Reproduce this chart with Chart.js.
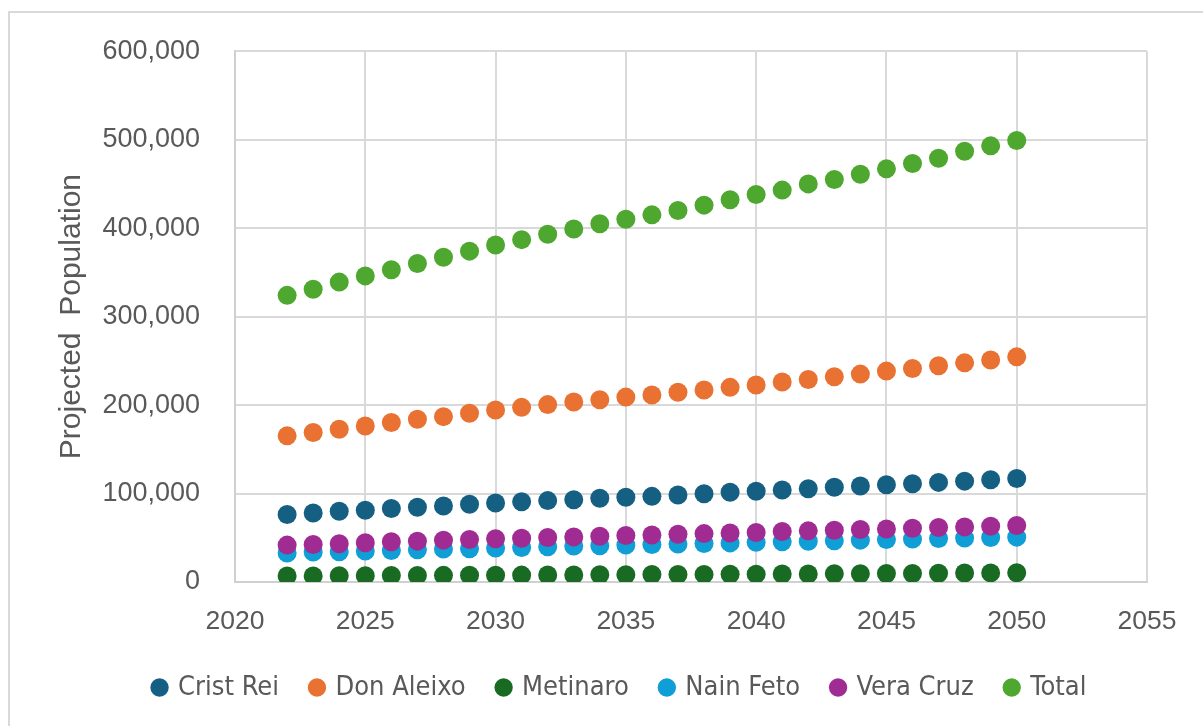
<!DOCTYPE html>
<html>
<head>
<meta charset="utf-8">
<script src="https://cdn.jsdelivr.net/npm/chart.js@4/dist/chart.umd.min.js"></script>
<style>
  html, body { margin: 0; padding: 0; background: #fff; overflow: hidden; }
  #wrap { position: relative; width: 1203px; height: 726px; }
  #frame {
    position: absolute; left: 8px; top: 11px; width: 1300px; height: 800px;
    border-left: 2px solid #d9d9d9; border-top: 2px solid #d9d9d9;
  }
  #chart { position: absolute; left: 0; top: 0; }
</style>
</head>
<body>
<div id="wrap">
  <div id="frame"></div>
  <canvas id="chart" width="1203" height="726"></canvas>
</div>
<script>
// projection years and per-suco populations
const years = [2022, 2023, 2024, 2025, 2026, 2027, 2028, 2029, 2030, 2031, 2032, 2033, 2034, 2035,
  2036, 2037, 2038, 2039, 2040, 2041, 2042, 2043, 2044, 2045, 2046, 2047, 2048, 2049, 2050];

const cristRei = [76200, 78000, 80000, 81000, 83000, 84500, 86000, 87800, 89300, 90800, 92000, 93000, 94600, 95700,
  96800, 98300, 99800, 101400, 102500, 104000, 105500, 107000, 108500, 110000, 111100, 112600, 114000, 115600, 117000];
const donAleixo = [165200, 168900, 172600, 176400, 180200, 183900, 186900, 190700, 194400, 197400, 200500, 203500, 206000, 209000,
  211400, 214400, 217000, 220000, 222600, 226000, 229000, 232000, 235000, 238400, 241300, 244400, 247700, 251000, 254500];
const metinaro = [6800, 6900, 7000, 7100, 7300, 7400, 7500, 7600, 7700, 7800, 7900, 8000, 8100, 8200,
  8400, 8500, 8600, 8700, 8900, 9000, 9100, 9300, 9400, 9600, 9700, 9900, 10100, 10300, 10500];
const nainFeto = [32700, 33800, 34200, 35000, 35700, 36500, 37200, 37600, 38400, 39100, 39900, 40600, 41000, 41700,
  42300, 42900, 43600, 44200, 44800, 45400, 46000, 46700, 47300, 47900, 48500, 49100, 49600, 50200, 50700];
const veraCruz = [41700, 42400, 43200, 44300, 45400, 46200, 47300, 48000, 48800, 49500, 50300, 51000, 51800, 52500,
  53200, 53900, 54700, 55400, 56000, 57000, 57800, 58500, 59300, 60000, 60800, 61600, 62300, 63000, 63800];
const total = [324000, 331000, 339000, 346000, 353000, 360000, 367000, 374000, 381000, 387000, 393000, 399000, 405000, 410000,
  415000, 420000, 426000, 432000, 438000, 443000, 450000, 455000, 461000, 467000, 473000, 479000, 487000, 493000, 499000];

const seriesNames = ["Crist Rei", "Don Aleixo", "Metinaro", "Nain Feto", "Vera Cruz", "Total"];
const seriesValues = [cristRei, donAleixo, metinaro, nainFeto, veraCruz, total];
const seriesColors = ["#156082", "#E97132", "#196B24", "#0F9ED5", "#A02B93", "#4EA72E"];

const sansFamily = "'Liberation Sans', Arial, sans-serif";
const tickColor = "#595959";

const datasets = seriesNames.map((name, i) => ({
  label: name,
  data: years.map((y, j) => ({ x: y, y: seriesValues[i][j] })),
  backgroundColor: seriesColors[i],
  borderWidth: 0,
  pointRadius: 9.5,
  pointHoverRadius: 9.5,
  order: seriesNames.length - i   // later series sit on top
}));

// nudge the legend row a little to the right
const legendShift = {
  id: "legendShift",
  afterLayout(chart) {
    chart.legend.left += 22;
    chart.legend.right += 22;
  }
};

new Chart(document.getElementById("chart"), {
  type: "scatter",
  data: { datasets },
  plugins: [legendShift],
  options: {
    responsive: false,
    animation: false,
    layout: { padding: { left: 50, right: 56, top: 39, bottom: 15 } },
    plugins: {
      tooltip: { enabled: false },
      legend: {
        position: "bottom",
        labels: {
          usePointStyle: true,
          pointStyle: "circle",
          boxWidth: 10,
          boxHeight: 13,
          padding: 33,
          color: tickColor,
          sort: (a, b) => a.datasetIndex - b.datasetIndex,
          font: { family: "'DejaVu Sans Condensed', 'Liberation Sans', sans-serif", size: 27 }
        }
      }
    },
    scales: {
      x: {
        type: "linear",
        min: 2020,
        max: 2055,
        ticks: { stepSize: 5, padding: 24, color: tickColor, font: { family: sansFamily, size: 26.5 },
          callback: v => String(v) },
        grid: { color: "#d9d9d9", lineWidth: 2, drawTicks: false },
        border: { color: "#d0d0d0", width: 2 },
        afterFit: s => { s.height = 59; }
      },
      y: {
        min: 0,
        max: 600000,
        ticks: { stepSize: 100000, padding: 35, color: tickColor, font: { family: sansFamily, size: 27 },
          callback: v => v.toLocaleString("en-US") },
        grid: { color: "#d9d9d9", lineWidth: 2, drawTicks: false },
        border: { color: "#d0d0d0", width: 2 },
        title: {
          display: true,
          text: "Projected  Population",
          color: tickColor,
          font: { family: sansFamily, size: 30 }
        },
        afterFit: s => { s.width = 185; }
      }
    }
  }
});
</script>
</body>
</html>
